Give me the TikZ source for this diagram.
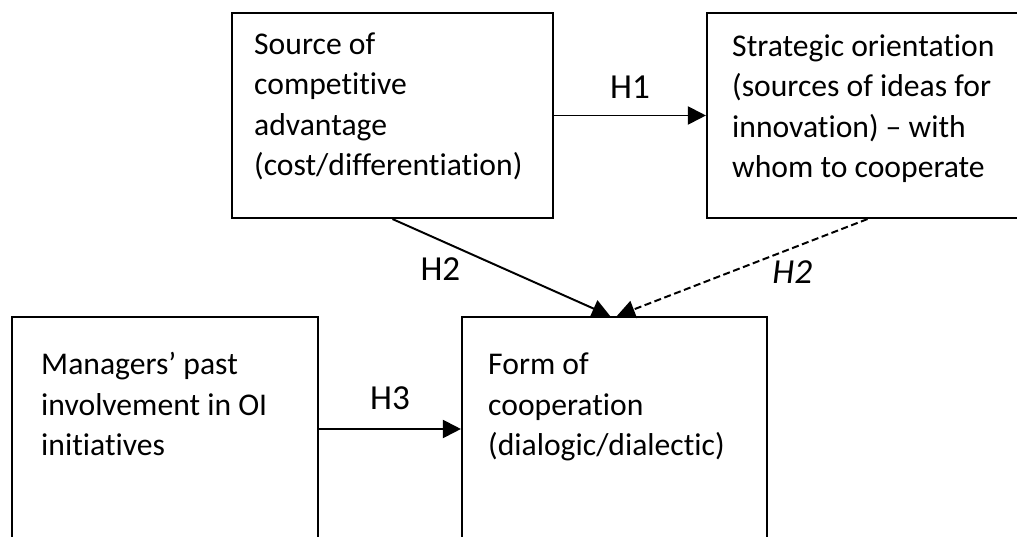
\documentclass[tikz,border=0pt]{standalone}
\usepackage{fontspec}
\setmainfont{Carlito}[Ligatures=NoCommon]
\usetikzlibrary{arrows.meta,positioning}

\begin{document}
\begin{tikzpicture}[
    every node/.style={font=\fontsize{22.5}{28.9}\selectfont},
    block/.style={draw, line width=1.5pt, minimum width=8.025cm, minimum height=5.125cm, inner sep=0pt},
    lowblock/.style={draw, line width=1.5pt, minimum height=5.6cm, inner sep=0pt},
    txt/.style={align=left, anchor=base west, inner sep=0pt},
    hyp/.style={font=\fontsize{25}{30}\selectfont},
    link/.style={-{Triangle[length=0.45cm, width=0.45cm]}, line width=1.4pt}
]
    \clip (0,0) rectangle (25.425,13.425);

    % Source of competitive advantage
    \node[block] (srcadv) at (9.8125,10.5375) {};
    \node[txt] (srcadvtxt) at ([xshift=0.575cm, yshift=-4.1cm]srcadv.north west)
        {Source of\\competitive\\advantage\\(cost/differentiation)};

    % Strategic orientation (runs off the right edge)
    \node[block] (strat) at (21.6875,10.5375) {};
    \node[txt] (strattxt) at ([xshift=0.65cm, yshift=-4.15cm]strat.north west)
        {Strategic orientation\\(sources of ideas for\\innovation) -- with\\whom to cooperate};

    % Managers' past involvement
    \node[lowblock, minimum width=7.65cm] (mgrs) at (4.125,2.7) {};
    \node[txt] (mgrstxt) at ([xshift=0.75cm, yshift=-3.5cm]mgrs.north west)
        {Managers’ past\\involvement in OI\\initiatives};

    % Form of cooperation
    \node[lowblock, minimum width=7.625cm] (form) at (15.3625,2.7) {};
    \node[txt] (formtxt) at ([xshift=0.675cm, yshift=-3.5cm]form.north west)
        {Form of\\cooperation\\(dialogic/dialectic)};

    % Hypotheses
    \draw[link] (srcadv.east) -- (strat.west)
        node[hyp, midway, yshift=0.7cm] (h1) {H1};
    \draw[link] (srcadv.south) -- ([xshift=-0.11cm]form.north)
        node[hyp, pos=0.22, yshift=-0.73cm] (h2) {H2};
    \draw[link, dash pattern=on 5pt off 2.5pt] (strat.south) -- ([xshift=0.06cm]form.north)
        node[hyp, pos=0.3, yshift=-0.6cm] (h2dash) {\textit{H2}};
    \draw[link] (mgrs.east) -- (form.west)
        node[hyp, midway, yshift=0.78cm] (h3) {H3};
\end{tikzpicture}
\end{document}
